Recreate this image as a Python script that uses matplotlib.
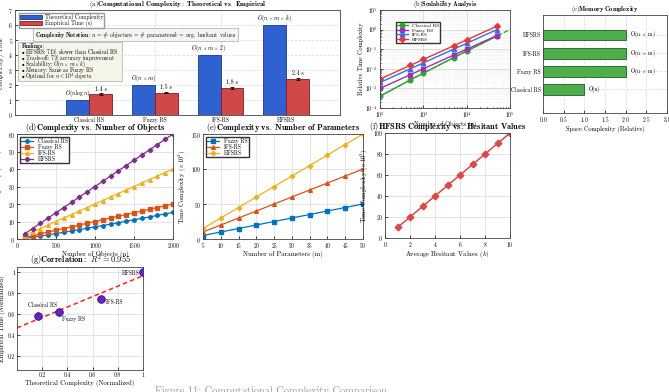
import numpy as np
import matplotlib
matplotlib.use('Agg')
import matplotlib.pyplot as plt
from matplotlib.patches import Patch

plt.rcParams.update({
    'font.family': ['cmr10', 'DejaVu Serif'],
    'mathtext.fontset': 'cm',
    'axes.formatter.use_mathtext': True,
    'axes.unicode_minus': False,
    'font.size': 4.5,
    'axes.linewidth': 0.6,
    'axes.edgecolor': '#444444',
    'xtick.direction': 'in', 'ytick.direction': 'in',
    'xtick.major.size': 2, 'ytick.major.size': 2,
    'xtick.minor.size': 1, 'ytick.minor.size': 1,
    'xtick.major.width': 0.5, 'ytick.major.width': 0.5,
    'xtick.labelsize': 4.0, 'ytick.labelsize': 4.0,
    'xtick.major.pad': 1.5, 'ytick.major.pad': 1.5,
    'axes.labelsize': 4.8, 'axes.labelpad': 1.2,
    'legend.fontsize': 4.0,
})

# ---------------- data ----------------
methods = ['Classical RS', 'Fuzzy RS', 'IFS-RS', 'HFSRS']
theoretical = [1, 2, 4, 6]
empirical = [1.4, 1.5, 1.8, 2.4]
empirical_err = [0.04, 0.05, 0.06, 0.08]
complexity_labels = [r'$O(n\log n)$', r'$O(n\times m)$',
                     r'$O(n\times m\times 2)$', r'$O(n\times m\times k)$']

scal_n = [100, 500, 1000, 5000, 10000, 50000]
scal_classical = [4.0e-4, 2.7e-3, 6.0e-3, 3.7e-2, 8.0e-2, 4.7e-1]
scal_fuzzy = [1.0e-3, 5.0e-3, 1.0e-2, 5.0e-2, 1.0e-1, 5.0e-1]
scal_ifs = [2.0e-3, 1.0e-2, 2.0e-2, 1.0e-1, 2.0e-1, 1.0]
scal_hfsrs = [3.0e-3, 1.5e-2, 3.0e-2, 1.5e-1, 3.0e-1, 1.5]
ref_n = [100, 500, 1000, 5000, 10000, 50000, 100000]
ref_vals = [4.0e-4, 2.7e-3, 6.0e-3, 3.7e-2, 8.0e-2, 4.7e-1, 1.0]

mem_methods = ['Classical RS', 'Fuzzy RS', 'IFS-RS', 'HFSRS']
mem_space = [1, 2, 2, 2]
mem_labels = ['O(n)', r'O(n $\times$ m)', r'O(n $\times$ m)', r'O(n $\times$ m)']

obj_n = [100, 200, 300, 400, 500, 600, 700, 800, 900, 1000,
         1100, 1200, 1300, 1400, 1500, 1600, 1700, 1800, 1900, 2000]
obj_classical = [0.46, 1.06, 1.71, 2.40, 3.11, 3.84, 4.59, 5.35, 6.12, 6.91,
                 7.70, 8.51, 9.33, 10.15, 10.97, 11.80, 12.64, 13.49, 14.34, 15.20]
obj_fuzzy = [1, 2, 3, 4, 5, 6, 7, 8, 9, 10, 11, 12, 13, 14, 15, 16, 17, 18, 19, 20]
obj_ifs = [2, 4, 6, 8, 10, 12, 14, 16, 18, 20, 22, 24, 26, 28, 30, 32, 34, 36, 38, 40]
obj_hfsrs = [3, 6, 9, 12, 15, 18, 21, 24, 27, 30, 33, 36, 39, 42, 45, 48, 51, 54, 57, 60]

par_m = [5, 10, 15, 20, 25, 30, 35, 40, 45, 50]
par_fuzzy = [5, 10, 15, 20, 25, 30, 35, 40, 45, 50]
par_ifs = [10, 20, 30, 40, 50, 60, 70, 80, 90, 100]
par_hfsrs = [15, 30, 45, 60, 75, 90, 105, 120, 135, 150]

hes_k = [1, 2, 3, 4, 5, 6, 7, 8, 9, 10]
hes_time = [10, 20, 30, 40, 50, 60, 70, 80, 90, 100]

corr_theo = [1/6, 2/6, 4/6, 1.0]
corr_emp = [0.583, 0.625, 0.75, 1.0]

findings = [r'$\mathbf{Findings:}$',
            r'$\bullet$ HFSRS: 71% slower than Classical RS',
            r'$\bullet$ Trade-off: 7% accuracy improvement',
            r'$\bullet$ Scalability: $O(n\times m\times k)$',
            r'$\bullet$ Memory: Same as Fuzzy RS',
            r'$\bullet$ Optimal for $n<10^4$ objects']

W, H = 669, 392
fig = plt.figure(figsize=(W/100, H/100), dpi=100)


def ax_px(l, t, r, b):
    return fig.add_axes([l/W, 1 - b/H, (r - l)/W, (b - t)/H])


def style_grid(ax, ls='-'):
    ax.grid(True, color='#d8d8d8', lw=0.5, ls=ls)
    ax.set_axisbelow(True)


TITLE_BIG = 6.0

# ---------------- (a) ----------------
ax = ax_px(15, 10, 340, 115)
x = np.arange(len(methods))
w = 0.35
ax.bar(x - w/2, theoretical, w, color='#2f62d0', edgecolor='#1a3a8a', lw=0.6)
ax.bar(x + w/2, empirical, w, yerr=empirical_err, color='#d04848', edgecolor='#8a1a1a', lw=0.6,
       error_kw=dict(ecolor='black', elinewidth=0.6, capsize=1.5, capthick=0.6))
for i in range(len(methods)):
    ax.text(x[i] - w/2, theoretical[i] + 0.08, complexity_labels[i], ha='center', va='bottom', fontsize=4.2)
    ax.text(x[i] + w/2, empirical[i] + empirical_err[i] + 0.12, f'{empirical[i]} s',
            ha='center', va='bottom', fontsize=4.2)
ax.set_xticks(x)
ax.set_xticklabels(methods)
ax.set_xlim(-1.13, 3.82)
ax.set_ylim(0, 7)
ax.set_yticks(range(8))
ax.set_ylabel(r'$\mathit{Complexity\ /\ Time}$', fontsize=4.5)
style_grid(ax, ls=(0, (4, 2)))
ax.set_title(r'(a)$\mathbf{Computational\ Complexity:\ Theoretical\ vs.\ Empirical}$', fontsize=5.0, pad=2)
handles = [Patch(facecolor='#2f62d0', edgecolor='#1a3a8a', lw=0.6),
           Patch(facecolor='#d04848', edgecolor='#8a1a1a', lw=0.6)]
ax.legend(handles, ['Theoretical Complexity', 'Empirical Time (s)'],
          loc='upper left', bbox_to_anchor=(0.003, 0.997), fontsize=4.1, handlelength=4.0,
          handleheight=0.75, borderpad=0.15, labelspacing=0.0, handletextpad=0.4,
          fancybox=False, edgecolor='#999999', framealpha=1)
ax.text(0.062, 0.765,
        r'$\mathbf{Complexity\ Notation:}$$n$ = $\#$ objects$m$ = $\#$ parameters$k$ = avg. hesitant values',
        transform=ax.transAxes, fontsize=4.1, va='center', ha='left',
        bbox=dict(boxstyle='square,pad=0.3', fc='#f4f4f0', ec='#aaaaaa', lw=0.5))
# findings box: background patch + one line of text per entry
fb_left, fb_top, fb_right, fb_bottom = 0.01, 0.70, 0.33, 0.325
ax.add_patch(plt.Rectangle((fb_left, fb_bottom), fb_right - fb_left, fb_top - fb_bottom,
                           transform=ax.transAxes, fc='#f5f4e8', ec='#aaaaaa', lw=0.5, zorder=5))
step = (fb_top - fb_bottom - 0.03) / len(findings)
for j, line in enumerate(findings):
    ax.text(fb_left + 0.008, fb_top - 0.015 - step * (j + 0.5), line, transform=ax.transAxes,
            fontsize=3.9, va='center', ha='left', zorder=6)

# ---------------- (b) ----------------
ax = ax_px(380, 10, 510, 108)
ax.plot(ref_n, ref_vals, ls='--', color='#33a033', lw=0.9)
ax.plot(scal_n, scal_classical, '-o', color='#33a033', lw=1, ms=3.3, label='Classical RS')
ax.plot(scal_n, scal_fuzzy, '-s', color='#a030b0', lw=1, ms=3.0, label='Fuzzy RS')
ax.plot(scal_n, scal_ifs, '-^', color='#3070f0', lw=1, ms=3.3, label='IFS-RS')
ax.plot(scal_n, scal_hfsrs, '-D', color='#e03a3a', lw=1, ms=3.0, label='HFSRS')
ax.set_xscale('log')
ax.set_yscale('log')
ax.set_xlim(1e2, 1e5)
ax.set_ylim(1e-4, 1e1)
ax.grid(True, which='major', color='#d0d0d0', lw=0.5)
ax.grid(True, which='minor', color='#e4e4e4', lw=0.4, ls=':')
ax.set_axisbelow(True)
ax.set_xlabel('Number of Objects (n)', fontsize=4.5, labelpad=0.6)
ax.set_ylabel('Relative Time Complexity', fontsize=4.5)
ax.set_title(r'(b)$\mathbf{Scalability\ Analysis}$', fontsize=4.6, pad=2)
ax.legend(loc='upper left', bbox_to_anchor=(0.1, 0.9), fontsize=3.6, handlelength=2.2,
          borderpad=0.25, labelspacing=0.0, fancybox=False, edgecolor='#333333', framealpha=1)

# ---------------- (c) ----------------
ax = ax_px(543, 15, 667, 113)
yc = np.arange(len(mem_methods))
ax.barh(yc, mem_space, 0.6, color='#4cae4c', edgecolor='#1f5f1f', lw=0.6)
for i in range(len(mem_methods)):
    ax.text(mem_space[i] + 0.1, yc[i], mem_labels[i], va='center', ha='left', fontsize=4.0)
ax.set_yticks(yc)
ax.set_yticklabels(mem_methods)
ax.set_xlim(0, 3)
ax.set_xticks([0, 0.5, 1, 1.5, 2, 2.5, 3])
ax.set_ylim(-1.3, 4.1)
style_grid(ax, ls=(0, (4, 2)))
ax.set_xlabel('Space Complexity (Relative)', fontsize=4.5)
ax.set_title(r'(c)$\mathbf{Memory\ Complexity}$', fontsize=4.6, pad=2)

# ---------------- (d) ----------------
ax = ax_px(17, 134, 173, 239)
ax.plot(obj_n, obj_classical, '-o', color='#0072BD', lw=0.9, ms=2.5, label='Classical RS')
ax.plot(obj_n, obj_fuzzy, '-s', color='#D95319', lw=0.9, ms=2.3, label='Fuzzy RS')
ax.plot(obj_n, obj_ifs, '-^', color='#EDB120', lw=0.9, ms=2.7, label='IFS-RS')
ax.plot(obj_n, obj_hfsrs, '-D', color='#7E2F8E', lw=0.9, ms=2.3, label='HFSRS')
ax.set_xlim(0, 2000)
ax.set_ylim(0, 60)
ax.set_xticks([0, 500, 1000, 1500, 2000])
ax.set_yticks([0, 10, 20, 30, 40, 50, 60])
style_grid(ax)
ax.set_xlabel('Number of Objects (n)', labelpad=0.3)
ax.set_ylabel(r'Time Complexity ($\times 10^3$)')
ax.set_title(r'(d)$\mathbf{Complexity\ vs.\ Number\ of\ Objects}$', fontsize=TITLE_BIG, pad=2)
ax.legend(loc='upper left', fontsize=4.0, handlelength=2.2, borderpad=0.25, labelspacing=0.0,
          fancybox=False, edgecolor='#333333', framealpha=1)

# ---------------- (e) ----------------
ax = ax_px(203, 134, 363, 239)
ax.plot(par_m, par_fuzzy, '-s', color='#0072BD', lw=0.9, ms=2.3, label='Fuzzy RS')
ax.plot(par_m, par_ifs, '-^', color='#D95319', lw=0.9, ms=2.7, label='IFS-RS')
ax.plot(par_m, par_hfsrs, '-D', color='#EDB120', lw=0.9, ms=2.3, label='HFSRS')
ax.set_xlim(5, 50)
ax.set_ylim(0, 150)
ax.set_xticks(par_m)
ax.set_yticks([0, 50, 100, 150])
style_grid(ax)
ax.set_xlabel('Number of Parameters (m)', labelpad=0.3)
ax.set_ylabel(r'Time Complexity ($\times 10^3$)')
ax.set_title(r'(e)$\mathbf{Complexity\ vs.\ Number\ of\ Parameters}$', fontsize=TITLE_BIG, pad=2)
ax.legend(loc='upper left', fontsize=4.0, handlelength=2.2, borderpad=0.25, labelspacing=0.0,
          fancybox=False, edgecolor='#333333', framealpha=1)

# ---------------- (f) ----------------
ax = ax_px(385, 133, 510, 238)
ax.plot(hes_k, hes_time, '-D', color='#d94a46', lw=1.1, ms=3.4)
ax.set_xlim(0, 10)
ax.set_ylim(0, 100)
ax.set_xticks([0, 2, 4, 6, 8, 10])
ax.set_yticks([0, 20, 40, 60, 80, 100])
style_grid(ax)
ax.set_xlabel(r'Average Hesitant Values ($k$)', labelpad=0.3)
ax.set_ylabel(r'Time Complexity ($\times 10^3$)')
ax.set_title(r'(f)$\mathbf{HFSRS\ Complexity\ vs.\ Hesitant\ Values}$', fontsize=TITLE_BIG, pad=2)

# ---------------- (g) ----------------
ax = ax_px(17, 267, 143, 370)
coef = np.polyfit(corr_theo, corr_emp, 1)
xf = np.array([0.0, 1.0])
ax.plot(xf, np.polyval(coef, xf), ls=(0, (3, 2)), color='#ff2020', lw=1.1)
ax.scatter(corr_theo, corr_emp, s=30, color='#6a22c8', edgecolor='#3a0a7a', lw=0.6, zorder=3)
offsets = [(4, 11, 'center'), (3, -7, 'left'), (5, -4, 'left'), (-3, -1, 'right')]
for i, name in enumerate(methods):
    dx, dy, ha = offsets[i]
    ax.annotate(name, (corr_theo[i], corr_emp[i]), xytext=(dx, dy), textcoords='offset pixels',
                ha=ha, va='center', fontsize=3.9)
ax.set_xlim(0, 1)
ax.set_ylim(0.07, 1.05)
ax.set_xticks([0.2, 0.4, 0.6, 0.8, 1])
ax.set_yticks([0.2, 0.4, 0.6, 0.8, 1])
ax.set_xticklabels(['0.2', '0.4', '0.6', '0.8', '1'])
ax.set_yticklabels(['0.2', '0.4', '0.6', '0.8', '1'])
style_grid(ax)
ax.set_xlabel('Theoretical Complexity (Normalized)')
ax.set_ylabel('Empirical Time (Normalized)')
ax.set_title(r'(g)$\mathbf{Correlation:}\ R^2 = 0.955$', fontsize=TITLE_BIG, pad=1.5)

fig.text(155/W, 1 - 386/H, 'Figure 11: Computational Complexity Comparison', fontsize=7.5,
         color='#9a9a9a', ha='left', va='top')

fig.savefig('out.png', dpi=100)
